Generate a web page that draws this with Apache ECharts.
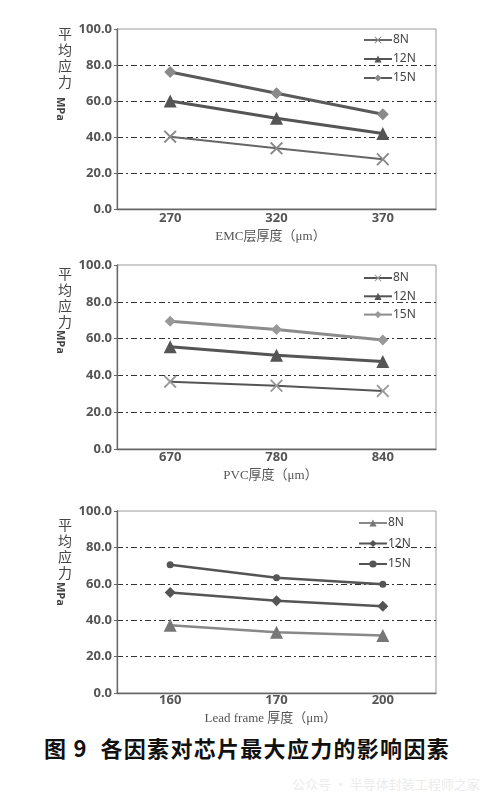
<!DOCTYPE html>
<html>
<head>
<meta charset="utf-8">
<script src="https://cdn.jsdelivr.net/npm/echarts@6/dist/echarts.min.js"></script>
<style>
  body { margin: 0; background: #fff; width: 500px; height: 801px; position: relative; overflow: hidden; }
  .chart { position: absolute; left: 0; width: 500px; }
  #caption {
    position: absolute; left: 0; width: 494px; top: 731px; line-height: 28px;
    text-align: center; font: bold 22px 'Noto Sans CJK SC', sans-serif; color: #111;
    letter-spacing: 1.3px; white-space: pre;
  }
  #wm {
    position: absolute; left: 292px; top: 774px;
    font: 13px 'Noto Sans CJK SC', sans-serif; color: #ececec;
  }
</style>
</head>
<body>
<div id="c1" class="chart" style="top:0;height:250px"></div>
<div id="c2" class="chart" style="top:250px;height:240px"></div>
<div id="c3" class="chart" style="top:490px;height:240px"></div>
<div id="caption">图 9  各因素对芯片最大应力的影响因素</div>
<div id="wm">公众号 · 半导体封装工程师之家</div>
<script>
// values (MPa)
const seriesNames = ['8N', '12N', '15N']
const yTicks = [0, 20, 40, 60, 80, 100]
const yNameChars = ['平', '均', '应', '力']

const emcThickness = ['270', '320', '370']
const emc8N = [40.2, 33.7, 27.6]
const emc12N = [60.0, 50.4, 42.0]
const emc15N = [76.1, 64.3, 52.6]

const pvcThickness = ['670', '780', '840']
const pvc8N = [36.6, 34.4, 31.5]
const pvc12N = [55.6, 50.9, 47.5]
const pvc15N = [69.4, 65.0, 59.2]

const leadThickness = ['160', '170', '200']
const lead8N = [37.3, 33.4, 31.6]
const lead12N = [55.2, 50.7, 47.7]
const lead15N = [70.5, 63.4, 59.8]

const xMark = 'path://M0,1L1,0L5,4L9,0L10,1L6,5L10,9L9,10L5,6L1,10L0,9L4,5Z'
const tickFont = "'Noto Sans', sans-serif"
const serifFont = "'Liberation Serif', 'Noto Sans CJK SC', serif"

function makeChart (id, cfg) {
  const chart = echarts.init(document.getElementById(id))
  const series = cfg.values.map((vals, i) => {
    const s = cfg.styles[i]
    return {
      name: seriesNames[i],
      type: 'line',
      data: vals,
      symbol: s.symbol,
      symbolSize: s.size,
      showAllSymbol: true,
      lineStyle: { color: s.line, width: s.width },
      itemStyle: { color: s.mark, borderWidth: 0 },
      z: 3 + i,
    }
  })
  // y axis title: stacked characters plus rotated unit
  const yName = yNameChars.map((ch, i) => ({
    type: 'text',
    x: 65,
    y: cfg.yNameTop + i * 16,
    style: {
      text: ch, font: "14px 'Noto Sans CJK SC'", fill: '#444',
      align: 'center', verticalAlign: 'top',
    },
  }))
  yName.push({
    type: 'text', x: 60, y: cfg.mpaTop, rotation: -Math.PI / 2,
    style: {
      text: 'MPa', font: "bold 11px 'Noto Sans'", fill: '#444',
      align: 'left', verticalAlign: 'middle',
    },
  })
  chart.setOption({
    animation: false,
    grid: {
      left: cfg.grid.left, top: cfg.grid.top, width: cfg.grid.width, height: cfg.grid.height,
      show: true, borderColor: '#9a9a9a', borderWidth: 1, backgroundColor: 'transparent',
    },
    legend: {
      orient: 'vertical',
      left: cfg.legend.left,
      top: cfg.legend.top,
      itemGap: cfg.legend.gap,
      itemWidth: 28,
      itemHeight: 9,
      data: seriesNames,
      textStyle: { fontFamily: tickFont, fontSize: 12, color: '#444', lineHeight: 14, padding: [0, 0, 0, -4] },
    },
    xAxis: {
      type: 'category',
      data: cfg.cats,
      boundaryGap: true,
      axisLine: { lineStyle: { color: '#666', width: 1.3 } },
      axisTick: { show: false },
      axisLabel: { margin: cfg.labelMargin, fontFamily: tickFont, fontSize: 13, fontWeight: 'bold', color: '#555' },
      name: cfg.xName,
      nameLocation: 'middle',
      nameGap: cfg.nameGap,
      nameTextStyle: { fontFamily: serifFont, fontSize: 13, color: '#555', padding: [0, 12, 0, 0] },
    },
    yAxis: {
      type: 'value',
      min: yTicks[0],
      max: yTicks[yTicks.length - 1],
      interval: yTicks[1] - yTicks[0],
      axisLine: { show: true, lineStyle: { color: '#666', width: 1.3 } },
      axisTick: { show: true, length: 3, lineStyle: { color: '#666' } },
      axisLabel: {
        margin: 5, fontFamily: tickFont, fontSize: 13, fontWeight: 'bold', color: '#555',
        formatter: v => v.toFixed(1),
      },
      splitLine: {
        show: true,
        showMinLine: false,
        showMaxLine: false,
        lineStyle: { color: '#333', width: 1, type: [6, 3, 2, 3] },
      },
    },
    graphic: yName,
    series: series,
  })
  return chart
}

makeChart('c1', {
  cats: emcThickness,
  values: [emc8N, emc12N, emc15N],
  styles: [
    { symbol: xMark, size: 13, line: '#666', width: 2, mark: '#888' },
    { symbol: 'triangle', size: 13, line: '#555', width: 3, mark: '#555' },
    { symbol: 'diamond', size: 12, line: '#5a5a5a', width: 3, mark: '#8a8a8a' },
  ],
  grid: { left: 117, top: 29, width: 319, height: 180 },
  legend: { left: 358, top: 28, gap: 5 },
  labelMargin: 3,
  xName: 'EMC层厚度（μm）',
  nameGap: 19,
  yNameTop: 27,
  mpaTop: 97,
})

makeChart('c2', {
  cats: pvcThickness,
  values: [pvc8N, pvc12N, pvc15N],
  styles: [
    { symbol: xMark, size: 13, line: '#555', width: 2, mark: '#999' },
    { symbol: 'triangle', size: 13, line: '#555', width: 3, mark: '#555' },
    { symbol: 'diamond', size: 11, line: '#8c8c8c', width: 3, mark: '#999' },
  ],
  grid: { left: 117, top: 15, width: 319, height: 184 },
  legend: { left: 358, top: 16, gap: 4.3 },
  labelMargin: 2,
  xName: 'PVC厚度（μm）',
  nameGap: 16,
  yNameTop: 17,
  mpaTop: 80,
})

makeChart('c3', {
  cats: leadThickness,
  values: [lead8N, lead12N, lead15N],
  styles: [
    { symbol: 'triangle', size: 13, line: '#888', width: 2.5, mark: '#777' },
    { symbol: 'diamond', size: 11, line: '#555', width: 2.5, mark: '#555' },
    { symbol: 'circle', size: 7, line: '#555', width: 2.5, mark: '#555' },
  ],
  grid: { left: 117, top: 21, width: 319, height: 186 },
  legend: { left: 353, top: 21, gap: 6.5 },
  labelMargin: 1,
  xName: 'Lead frame 厚度（μm）',
  nameGap: 14,
  yNameTop: 28,
  mpaTop: 92,
})
</script>
</body>
</html>
